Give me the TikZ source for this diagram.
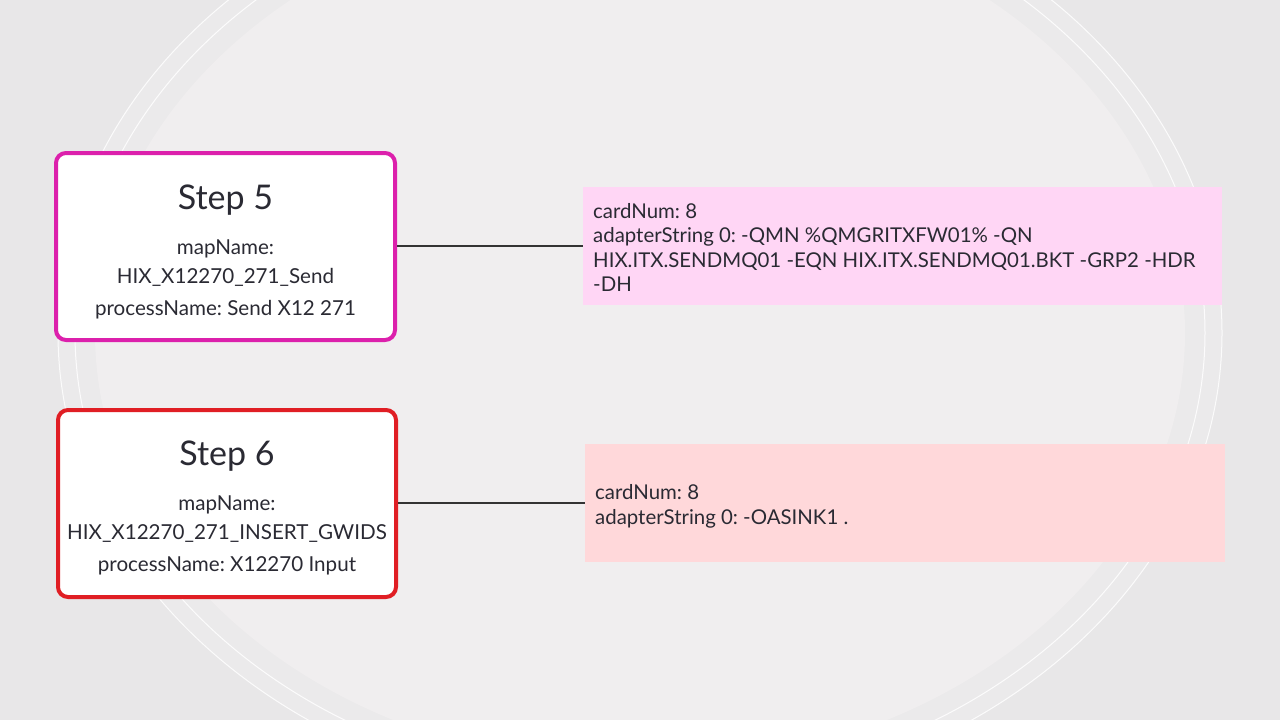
\documentclass[tikz,border=0pt]{standalone}
\usepackage{fontspec}
\setmainfont{Lato}
\frenchspacing
\definecolor{bgout}{HTML}{E8E7E8}
\definecolor{bgband}{HTML}{EBEAEB}
\definecolor{bgin}{HTML}{F0EEEF}
\definecolor{magb}{HTML}{DC20AC}
\definecolor{redb}{HTML}{E01E24}
\definecolor{pinkf}{HTML}{FFD6F5}
\definecolor{salf}{HTML}{FFD8DA}
\definecolor{txt}{HTML}{2A2A33}
\definecolor{conn}{HTML}{333333}
\begin{document}
\begin{tikzpicture}[x=1pt,y=-1pt,
  stepbox/.style={draw, line width=4pt, rounded corners=10pt, fill=white,
    minimum width=339pt, minimum height=187pt, inner sep=0pt},
  infobox/.style={rectangle, minimum width=639pt, minimum height=118pt, inner sep=0pt},
  bigtxt/.style={anchor=base, inner sep=0pt, text=txt, font=\fontsize{34}{40}\selectfont},
  midtxt/.style={anchor=base, inner sep=0pt, text=txt, font=\fontsize{20.6}{26}\selectfont},
  smalltxt/.style={anchor=base west, inner sep=0pt, text=txt, font=\fontsize{20.4}{24}\selectfont},
  connline/.style={draw=conn, line width=2pt}]
\useasboundingbox (0,0) rectangle (1280,720);
\fill[bgout] (0,0) rectangle (1280,720);
\begin{scope}
\clip (0,0) rectangle (1280,720);
\fill[bgband] (640,333) ellipse [x radius=582, y radius=471];
\fill[bgin] (640,333) ellipse [x radius=545, y radius=434];
\draw[white, line width=1pt, opacity=0.85] (640,333) ellipse [x radius=565, y radius=454];
\draw[white, line width=1pt, opacity=0.85] (640,333) ellipse [x radius=582, y radius=471];
\end{scope}

% Step 5
\node[stepbox, draw=magb] (s5) at (225.5,246.5) {};
\node[bigtxt] (s5a) at (225.5,209) {Step 5};
\node[midtxt] (s5b) at (225.5,254.5) {mapName:};
\node[midtxt] (s5c) at (225.5,283) {HIX\_X12270\_271\_Send};
\node[midtxt] (s5d) at (225.5,315) {processName: Send X12 271};

\node[infobox, fill=pinkf] (p5) at (902.5,246) {};
\node[smalltxt] (p5a) at (593,218) {cardNum: 8};
\node[smalltxt] (p5b) at (593,242.5) {adapterString 0: -QMN \%QMGRITXFW01\% -QN};
\node[smalltxt] (p5c) at (593,267) {HIX.ITX.SENDMQ01 -EQN HIX.ITX.SENDMQ01.BKT -GRP2 -HDR};
\node[smalltxt] (p5d) at (593,291.5) {-DH};

\draw[connline] (s5.east |- 0,246) -- (p5.west |- 0,246);

% Step 6
\node[stepbox, draw=redb, minimum width=338pt] (s6) at (227,503.5) {};
\node[bigtxt] (s6a) at (227,465) {Step 6};
\node[midtxt] (s6b) at (227,510.5) {mapName:};
\node[midtxt] (s6c) at (227,539) {HIX\_X12270\_271\_INSERT\_GWIDS};
\node[midtxt] (s6d) at (227,571) {processName: X12270 Input};

\node[infobox, fill=salf, minimum width=640pt] (p6) at (905,503) {};
\node[smalltxt] (p6a) at (595,499.5) {cardNum: 8};
\node[smalltxt] (p6b) at (595,524) {adapterString 0: -OASINK1 .};

\draw[connline] (s6.east |- 0,503) -- (p6.west |- 0,503);
\end{tikzpicture}
\end{document}
